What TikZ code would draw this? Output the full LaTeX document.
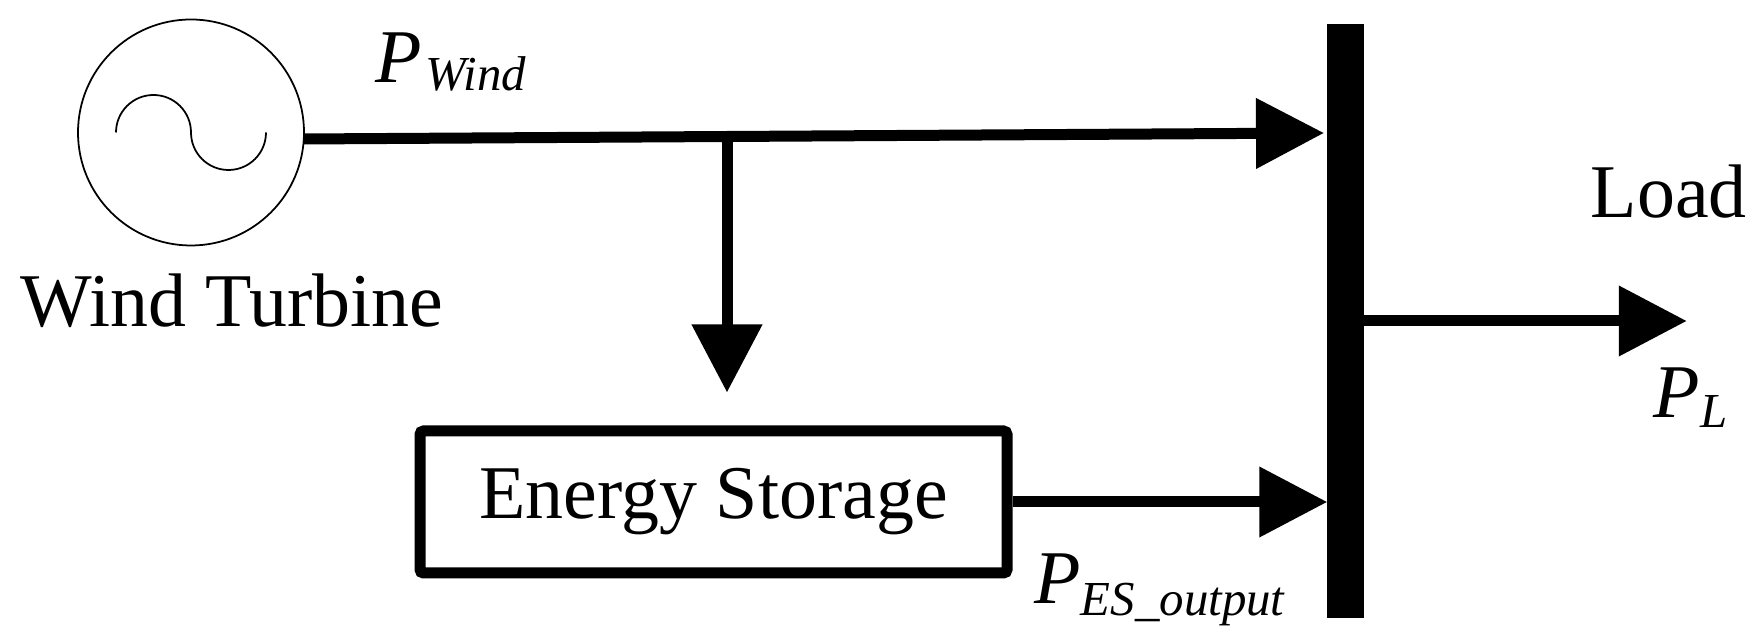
\documentclass[tikz,border=0pt]{standalone}
\usepackage{fontspec}
\setmainfont{Liberation Serif}
\usetikzlibrary{positioning,arrows.meta}
\tikzset{gennode/.style={circle,draw,line width=0.5pt,inner sep=0pt,outer sep=0pt,minimum size=2.26cm},
	 busnode/.style={rectangle,fill=black,inner sep=0pt,outer sep=0pt,minimum width=0.365cm,minimum height=5.94cm},
	 boxnode/.style={rectangle,draw,line width=0.11cm,rounded corners=1pt,inner sep=0pt,minimum width=5.87cm,minimum height=1.42cm,font=\fontsize{21.6}{24}\selectfont},
	 txtnode/.style={inner sep=0pt,outer sep=0pt,font=\fontsize{21.6}{24}\selectfont},
	 flow/.style={line width=0.11cm,-{Triangle[length=0.68cm,width=0.68cm]}}
	 }
\newcommand{\powlabel}[2]{\textit{P}\raisebox{-#2}{\fontsize{13.9}{15}\selectfont\textit{#1}}}

\begin{document}
\begin{tikzpicture} % wind turbine and storage feeding a load bus
	\useasboundingbox (0,0) rectangle (17.55,-6.42);
	\node[gennode] (gen) at (1.91,-1.325) {};
	\node[busnode] (bus) at (13.455,-3.21) {};
	\node[boxnode] (store) at (7.135,-5.02) {Energy Storage};
	\node[txtnode] (wt) [below=0.28cm of gen,xshift=0.41cm] {Wind Turbine};
	\coordinate (windout) at (3.04,-1.39);
	\coordinate (windin) at (13.24,-1.33);
	\coordinate (tap) at (7.27,-1.365);
	\coordinate[right=3.23cm of bus] (loadend);
	\node[txtnode] (load) [above=1.03cm of loadend,xshift=-0.18cm] {Load};
	\node[txtnode] (pwind) [above left=0.45cm and 2.01cm of tap] {\powlabel{\kern1pt Wind}{0.8mm}};
	\node[txtnode] (pl) [below=0.47cm of loadend,xshift=0.04cm] {\powlabel{L}{1mm}};
	\node[txtnode] (pes) [below right=0.52cm and 0.22cm of store.east] {\powlabel{ES\_output}{1.2mm}};
	\draw[line width=0.5pt] ([xshift=-0.75cm]gen.center) arc (180:0:0.375) arc (180:360:0.375);
	\draw[flow] (windout) to (windin);
	\draw[flow,shorten >=0.33cm] (tap) to (tap |- store.north);
	\draw[flow] (store.east) to (bus.west |- store.east);
	\draw[flow] (bus.east) to (loadend);
\end{tikzpicture}
\end{document}
